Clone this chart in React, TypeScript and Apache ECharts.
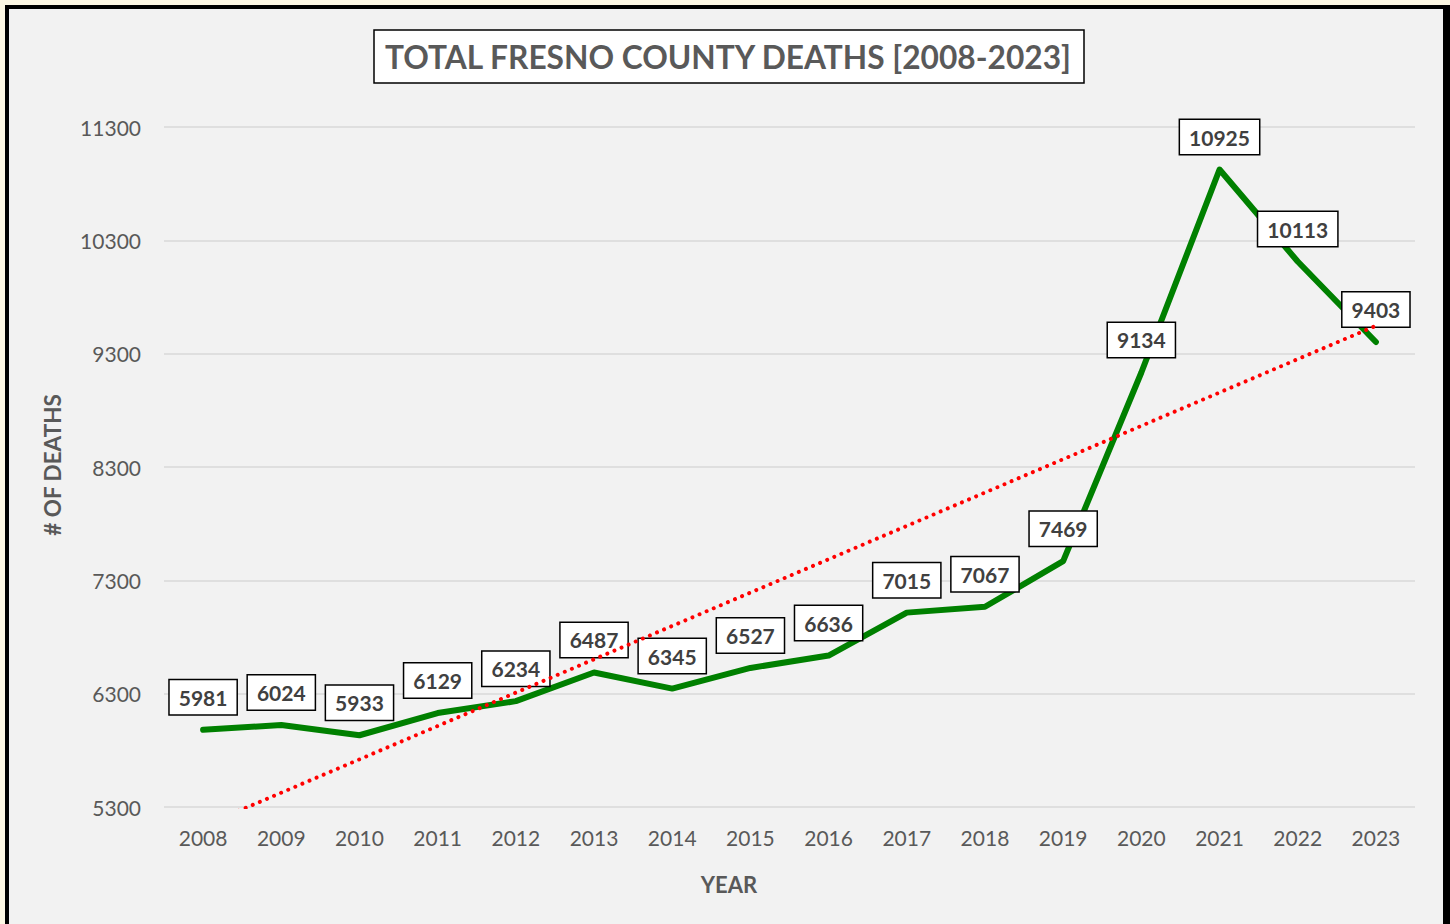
import React, { useEffect, useRef } from 'react';
import * as echarts from 'echarts';

const years = ['2008', '2009', '2010', '2011', '2012', '2013', '2014', '2015', '2016', '2017', '2018', '2019', '2020', '2021', '2022', '2023'];
const deaths = [5981, 6024, 5933, 6129, 6234, 6487, 6345, 6527, 6636, 7015, 7067, 7469, 9134, 10925, 10113, 9403];
// linear trendline end points
const trendYears = ['2008', '2023'];
const trendValues = [5132, 9546];
const yMin = 5300;
const yMax = 11300;
const yStep = 1000;
const xName = 'YEAR';
const yName = '# OF DEATHS';

const FONT = 'Lato';

export default function App() {
  const ref = useRef<HTMLDivElement>(null);
  useEffect(() => {
    document.body.style.margin = '0';
    const chart = echarts.init(ref.current!, null, { renderer: 'svg' });
    chart.setOption({
      animation: false,
      backgroundColor: 'transparent',
      title: {
        text: 'TOTAL FRESNO COUNTY DEATHS [2008-2023]',
        left: 374,
        top: 30,
        padding: [8, 11],
        backgroundColor: '#ffffff',
        borderColor: '#000000',
        borderWidth: 1.5,
        textStyle: { fontFamily: FONT, fontWeight: 'bold', fontSize: 31.7, lineHeight: 37, color: '#595959' },
      },
      graphic: [
        {
          type: 'text',
          x: 729,
          y: 884,
          style: { text: xName, fontFamily: FONT, fontWeight: 'bold', fontSize: 22, fill: '#595959', align: 'center', verticalAlign: 'middle' },
        },
        {
          type: 'text',
          x: 52,
          y: 465,
          rotation: Math.PI / 2,
          style: { text: yName, fontFamily: FONT, fontWeight: 'bold', fontSize: 22.5, fill: '#595959', align: 'center', verticalAlign: 'middle' },
        },
      ],
      grid: { left: 164, right: 35, top: 127, bottom: 117, containLabel: false },
      xAxis: {
        type: 'category',
        data: years,
        boundaryGap: true,
        axisLine: { show: false },
        axisTick: { show: false },
        axisLabel: { fontFamily: FONT, fontSize: 21, color: '#595959', margin: 20 },
      },
      yAxis: {
        type: 'value',
        min: yMin,
        max: yMax,
        interval: yStep,
        axisLine: { show: false },
        axisTick: { show: false },
        axisLabel: { fontFamily: FONT, fontSize: 21, color: '#595959', margin: 23, formatter: (v: number) => String(v) },
        splitLine: { lineStyle: { color: '#d9d9d9', width: 1.5 } },
      },
      series: [
        {
          type: 'line',
          data: deaths,
          symbol: 'circle',
          symbolSize: 1,
          showSymbol: true,
          itemStyle: { color: 'rgba(0,0,0,0)' },
          lineStyle: { color: '#008000', width: 6, join: 'round', cap: 'round' },
          label: {
            show: true,
            position: 'top',
            distance: 15,
            formatter: (p: any) => String(p.value),
            fontFamily: FONT,
            fontWeight: 'bold',
            fontSize: 21,
            lineHeight: 22,
            color: '#404040',
            backgroundColor: '#ffffff',
            borderColor: '#000000',
            borderWidth: 1.5,
            padding: [6, 9],
          },
          z: 2,
        },
        {
          type: 'line',
          data: trendYears.map((y, i) => [y, trendValues[i]]),
          symbol: 'none',
          clip: true,
          lineStyle: { color: '#ff0000', width: 4, type: [0.01, 7.7], cap: 'round' },
          z: 3,
        },
      ],
    });
    return () => chart.dispose();
  }, []);
  return (
    <div style={{ position: 'relative', width: 1450, height: 924, overflow: 'hidden', background: '#fdf8e4' }}>
      <div
        style={{
          position: 'absolute',
          left: 5,
          top: 5,
          width: 1445,
          height: 940,
          boxSizing: 'border-box',
          background: '#f2f2f2',
          borderStyle: 'solid',
          borderColor: '#000000',
          borderWidth: '4px 7px 4px 4px',
        }}
      />
      <div ref={ref} style={{ position: 'absolute', left: 0, top: 0, width: 1450, height: 924 }} />
    </div>
  );
}
